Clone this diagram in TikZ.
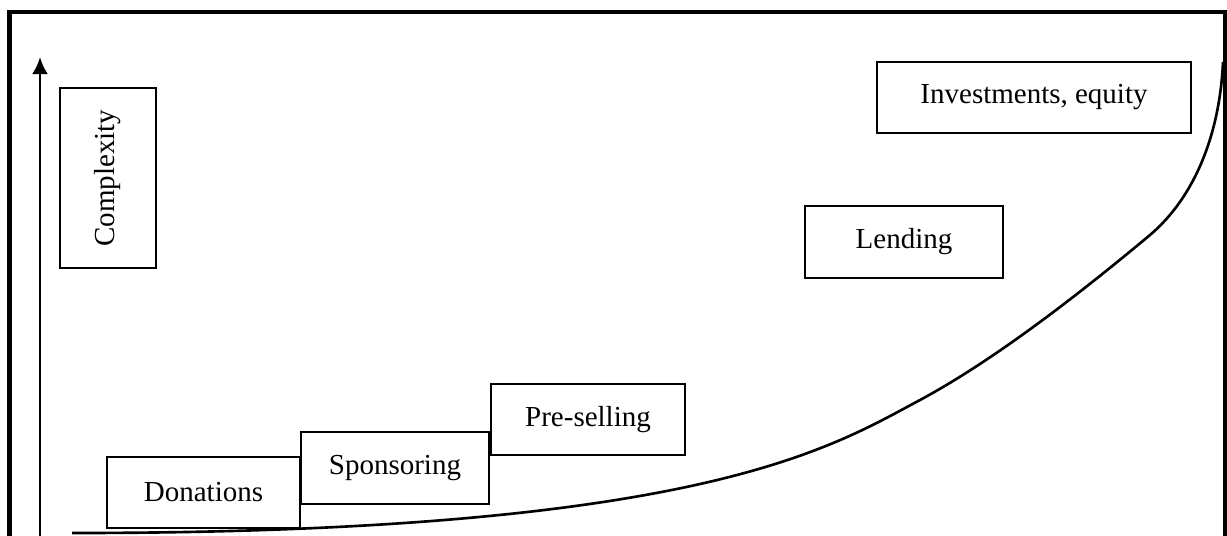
\documentclass[tikz,border=0pt]{standalone}
\usepackage{fontspec}
\setmainfont{Liberation Serif}
\usetikzlibrary{arrows.meta}

\tikzset{
    stage/.style={draw,line width=1.3pt,inner sep=0pt,align=center,
        font=\fontsize{16.5}{20}\selectfont},
    frameline/.style={line width=2.4pt},
    axisline/.style={line width=1.7pt,-{Latex[length=0.34cm,width=0.32cm]}},
    growth/.style={line width=1.5pt}
}

\begin{document}
\begin{tikzpicture}[x=0.02cm,y=-0.02cm]
    \useasboundingbox (0,0) rectangle (1227,535);
    % Outer frame
    \draw[frameline] (9.5,560) -- (9.5,12) -- (1225,12) -- (1225,560);
    % Complexity axis
    \coordinate (base) at (40,560);
    \coordinate (tip) at (40,57);
    \draw[axisline] (base) -- (tip);
    \node[stage,rotate=90,minimum width=180*0.02cm,minimum height=96*0.02cm]
        (cplx) at (108,178) {Complexity};
    % Growth curve
    \draw[growth] (72,533) .. controls (700,533) and (830,448) .. (920,400)
        .. controls (1000,357) and (1090,285) .. (1150,235)
        .. controls (1197,195) and (1220,130) .. (1223,62);
    % Funding stages
    \foreach \nm/\cx/\cy/\w/\h/\txt in {
        don/203.5/492.5/193/71/Donations,
        spon/395/468/188/72/Sponsoring,
        presell/588/419.5/194/71/Pre-selling,
        lend/904/242/198/72/Lending,
        invest/1034/97.5/314/71/{Investments, equity}}
        \node[stage,minimum width=\w*0.02cm,minimum height=\h*0.02cm]
            (\nm) at (\cx,\cy) {\txt};
\end{tikzpicture}
\end{document}
